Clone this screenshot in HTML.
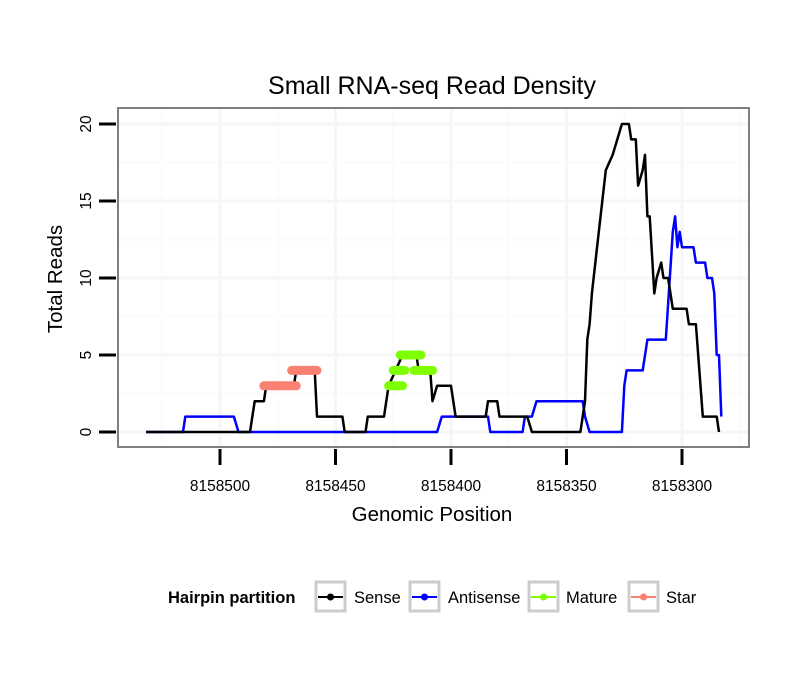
<!DOCTYPE html>
<html><head><meta charset="utf-8"><style>
body{margin:0;background:#fff;}
svg text{font-family:"Liberation Sans",sans-serif;}
</style></head><body>
<svg id="chart" width="810" height="690" xmlns="http://www.w3.org/2000/svg">
<rect width="810" height="690" fill="#fff"/>
<text x="432" y="94" font-size="25" text-anchor="middle">Small RNA-seq Read Density</text>
<g id="grid"></g>
<g id="marks"></g>
<rect x="118" y="108" width="631" height="339" fill="none" stroke="#7f7f7f" stroke-width="2"/>
<g id="axes"></g>
<text x="432" y="521" font-size="20.5" text-anchor="middle">Genomic Position</text>
<text transform="translate(62,279) rotate(-90)" font-size="20.5" text-anchor="middle">Total Reads</text>
<g>
<text x="168" y="603" font-size="16.5" font-weight="bold">Hairpin partition</text>
<g><rect x="316" y="582" width="29" height="29" fill="#fff" stroke="#cccccc" stroke-width="3"/><line x1="318" y1="597" x2="343" y2="597" stroke="#000" stroke-width="2"/><circle cx="330.5" cy="597" r="3.5" fill="#000"/><text x="354" y="603" font-size="16.5">Sense</text></g>
<g><rect x="410" y="582" width="29" height="29" fill="#fff" stroke="#cccccc" stroke-width="3"/><line x1="412" y1="597" x2="437" y2="597" stroke="#0000ff" stroke-width="2"/><circle cx="424.5" cy="597" r="3.5" fill="#0000ff"/><text x="448" y="603" font-size="16.5">Antisense</text></g>
<g><rect x="529" y="582" width="29" height="29" fill="#fff" stroke="#cccccc" stroke-width="3"/><line x1="531" y1="597" x2="556" y2="597" stroke="#7fff00" stroke-width="2"/><circle cx="543.5" cy="597" r="3.5" fill="#7fff00"/><text x="566" y="603" font-size="16.5">Mature</text></g>
<g><rect x="629" y="582" width="29" height="29" fill="#fff" stroke="#cccccc" stroke-width="3"/><line x1="631" y1="597" x2="656" y2="597" stroke="#fa8072" stroke-width="2"/><circle cx="643.5" cy="597" r="3.5" fill="#fa8072"/><text x="666" y="603" font-size="16.5">Star</text></g>
</g>
</svg>
<script>
const xTicks=[8158500,8158450,8158400,8158350,8158300];
const yTicks=[0,5,10,15,20];
const sensePos=[8158532,8158487,8158485,8158481,8158480,8158468,8158467,8158459,8158458,8158447,8158446,8158437,8158436,8158429,8158427,8158424,8158421,8158415,8158414,8158409,8158408,8158406,8158400,8158398,8158385,8158384,8158380,8158379,8158367,8158365,8158344,8158342,8158341,8158340,8158339,8158336,8158333,8158330,8158326,8158323,8158322,8158320,8158319,8158317,8158316,8158315,8158314,8158312,8158311,8158309,8158308,8158306,8158304,8158298,8158297,8158294,8158291,8158285,8158284];
const senseVal=[0,0,2,2,3,3,4,4,1,1,0,0,1,1,3,4,5,5,4,4,2,3,3,1,1,2,2,1,1,0,0,2,6,7,9,13,17,18,20,20,19,19,16,17,18,14,14,9,10,11,10,10,8,8,7,7,1,1,0];
const antiPos=[8158532,8158516,8158515,8158494,8158492,8158406,8158404,8158384,8158383,8158369,8158368,8158365,8158363,8158343,8158342,8158340,8158326,8158325,8158324,8158317,8158315,8158307,8158304,8158303,8158302,8158301,8158300,8158295,8158294,8158290,8158289,8158287,8158286,8158285,8158284,8158283];
const antiVal=[0,0,1,1,0,0,1,1,0,0,1,1,2,2,1,0,0,3,4,4,6,6,13,14,12,13,12,12,11,11,10,10,9,5,5,1];
const matureStart=[8158427,8158425,8158422,8158416];
const matureEnd=[8158421,8158420,8158413,8158408];
const matureVal=[3,4,5,4];
const starStart=[8158481,8158469];
const starEnd=[8158467,8158458];
const starVal=[3,4];

const X=p=>220+(8158500-p)*2.31;
const Y=v=>432-v*15.4;
const NS='http://www.w3.org/2000/svg';
function mk(parent,tag,attrs){const e=document.createElementNS(NS,tag);for(const k in attrs)e.setAttribute(k,attrs[k]);parent.appendChild(e);return e;}
const grid=document.getElementById('grid'),marks=document.getElementById('marks'),axes=document.getElementById('axes');
mk(grid,'rect',{x:118,y:108,width:631,height:339,fill:'#fff'});
for(let i=-1;i<xTicks.length;i++){const p=xTicks[0]-25-i*50;const x=X(p);if(x>118&&x<749){const l=mk(grid,'line',{x1:x,x2:x,y1:109,y2:446,stroke:'#fbfbfb','stroke-width':2});}}
for(let v=2.5;v<20;v+=5){const l=mk(grid,'line',{x1:119,x2:748,y1:Y(v),y2:Y(v),stroke:'#fbfbfb','stroke-width':2});}
xTicks.forEach(p=>{const x=X(p);
const g=mk(grid,'line',{x1:x,x2:x,y1:109,y2:446,stroke:'#f6f6f6','stroke-width':3});
const t=mk(axes,'line',{x1:x,x2:x,y1:449,y2:465,stroke:'#000','stroke-width':3});
const tx=mk(axes,'text',{x:x,y:491,'font-size':15.5,'text-anchor':'middle'});tx.textContent=p;});
yTicks.forEach(v=>{const y=Y(v);
const g=mk(grid,'line',{x1:119,x2:748,y1:y,y2:y,stroke:'#f6f6f6','stroke-width':3});
const t=mk(axes,'line',{x1:99,x2:116,y1:y,y2:y,stroke:'#000','stroke-width':3});
const tx=mk(axes,'text',{transform:`translate(91,${y}) rotate(-90)`,'font-size':15.5,'text-anchor':'middle'});tx.textContent=v;});
function line(pos,val,color,name){const d=pos.map((p,i)=>(i?'L':'M')+X(p).toFixed(1)+','+Y(val[i]).toFixed(1)).join('');
const e=mk(marks,'path',{d:d,fill:'none',stroke:color,'stroke-width':2.5,'stroke-linejoin':'round'});}
line(antiPos,antiVal,'#0000ff','antisense-line');
line(sensePos,senseVal,'#000','sense-line');
function segs(s,e,v,color,name){s.forEach((p,i)=>{const el=mk(marks,'line',{x1:X(p),x2:X(e[i]),y1:Y(v[i]),y2:Y(v[i]),stroke:color,'stroke-width':9,'stroke-linecap':'round'});});}
segs(starStart,starEnd,starVal,'#fa8072','star-segment');
segs(matureStart,matureEnd,matureVal,'#7fff00','mature-segment');
</script>
</body></html>
